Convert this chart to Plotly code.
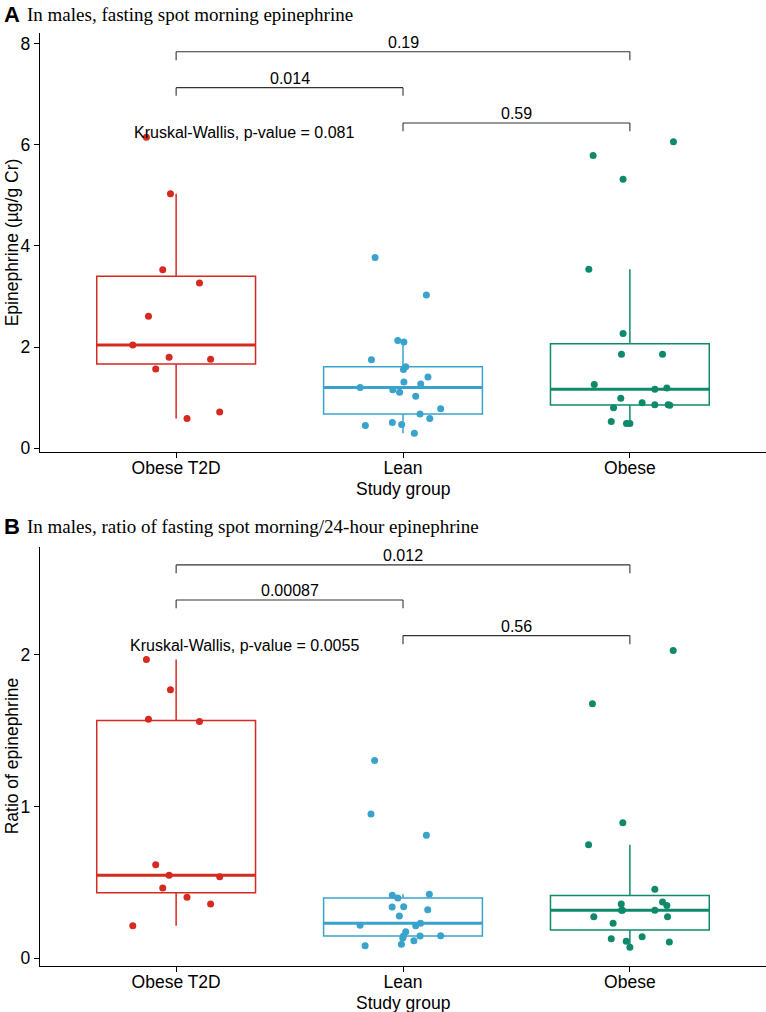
import numpy as np
import plotly.graph_objects as go

# ---------------- data ----------------
groups = ["Obese T2D", "Lean", "Obese"]

# Panel A: fasting spot morning epinephrine (µg/g Cr)
a_t2d = [6.15, 5.03, 3.53, 3.27, 2.61, 2.04, 1.80, 1.76, 1.57, 0.59, 0.72]
a_t2d_jit = [-0.131, -0.025, -0.059, 0.103, -0.122, -0.191, -0.031, 0.152, -0.090, 0.048, 0.192]
a_lean = [3.77, 3.03, 2.13, 2.10, 1.75, 1.56, 1.61, 1.41, 1.31, 1.27, 1.20, 1.16, 1.11, 1.03,
          0.78, 0.68, 0.59, 0.45, 0.51, 0.47, 0.30]
a_lean_jit = [-0.123, 0.103, -0.023, 0.004, -0.139, 0.002, 0.012, 0.110, 0.004, 0.078, -0.189,
              -0.045, -0.015, 0.056, 0.166, 0.075, 0.118, -0.166, -0.047, -0.006, 0.050]
a_obese = [3.54, 2.27, 1.86, 1.86, 1.26, 1.17, 1.19, 0.99, 0.80, 0.90, 0.86, 0.86, 0.85, 0.53,
           0.49, 0.49, 5.79, 5.32, 6.06]
a_obese_jit = [-0.181, -0.030, -0.037, 0.144, -0.157, 0.110, 0.163, -0.040, -0.072, 0.054, 0.110,
               0.169, 0.176, -0.082, -0.015, 0.0, -0.162, -0.030, 0.192]
a_pvals = ["0.19", "0.014", "0.59"]
a_kw = "Kruskal-Wallis, p-value = 0.081"

# Panel B: ratio of fasting spot morning / 24-hour epinephrine
b_t2d = [1.97, 1.77, 1.575, 1.56, 0.617, 0.547, 0.538, 0.463, 0.402, 0.358, 0.215]
b_t2d_jit = [-0.131, -0.025, -0.122, 0.103, -0.090, -0.031, 0.192, -0.059, 0.048, 0.152, -0.191]
b_lean = [1.303, 0.951, 0.811, 0.415, 0.397, 0.422, 0.338, 0.340, 0.320, 0.279, 0.218, 0.215,
          0.231, 0.175, 0.147, 0.134, 0.147, 0.149, 0.116, 0.092, 0.083]
b_lean_jit = [-0.125, -0.141, 0.103, -0.047, -0.023, 0.116, -0.048, 0.003, 0.109, -0.016, -0.189,
              0.056, 0.077, 0.012, 0.002, -0.001, 0.075, 0.166, 0.048, -0.007, -0.167]
b_obese = [2.028, 1.678, 0.894, 0.749, 0.455, 0.371, 0.347, 0.358, 0.316, 0.316, 0.316, 0.274,
           0.274, 0.231, 0.129, 0.142, 0.107, 0.112, 0.073]
b_obese_jit = [0.191, -0.165, -0.031, -0.182, 0.110, 0.144, 0.163, -0.038, -0.037, -0.033, 0.110,
               -0.159, 0.166, -0.074, -0.082, 0.054, 0.174, -0.016, 0.0]
b_pvals = ["0.012", "0.00087", "0.56"]
b_kw = "Kruskal-Wallis, p-value = 0.0055"

titles = ["In males, fasting spot morning epinephrine",
          "In males, ratio of fasting spot morning/24-hour epinephrine"]
panel_letters = ["A", "B"]
y_titles = ["Epinephrine (µg/g Cr)", "Ratio of epinephrine"]
x_title = "Study group"

# ---------------- styles / layout ----------------
colors = ["#D42A20", "#3AA3CB", "#0E8A6B"]
W, H = 766, 1012
ML, MR, MT, MB = 40, 0, 33, 46
PH = H - MT - MB
PW = W - ML - MR


def py(p):  # pixel y -> paper y
    return (H - MB - p) / PH


def px(p):  # pixel x -> paper x
    return (p - ML) / PW


dom_a = [py(451.7), 1.0]
dom_b = [0.0, py(546.7)]
yr_a = [-0.067, 8.21]
yr_b = [-0.051, 2.713]
# bracket heights (top, tick end) per comparison: (0-2), (0-1), (1-2)
br_a = [(7.84, 7.67), (7.13, 6.97), (6.43, 6.27)]
br_b = [(2.593, 2.538), (2.362, 2.307), (2.127, 2.070)]
kw_y = [6.24, 2.065]
pairs = [(0, 2), (0, 1), (1, 2)]
BOXW = 0.7
FONT = "Liberation Sans, Arial, sans-serif"

fig = go.Figure()
shapes = []
annots = []


def box_stats(v):
    v = np.asarray(v, float)
    q1, med, q3 = np.percentile(v, [25, 50, 75])
    iqr = q3 - q1
    lo = v[v >= q1 - 1.5 * iqr].min()
    hi = v[v <= q3 + 1.5 * iqr].max()
    return q1, med, q3, lo, hi


panels = [
    ("x", "y", [(a_t2d, a_t2d_jit), (a_lean, a_lean_jit), (a_obese, a_obese_jit)], a_pvals, a_kw, br_a),
    ("x2", "y2", [(b_t2d, b_t2d_jit), (b_lean, b_lean_jit), (b_obese, b_obese_jit)], b_pvals, b_kw, br_b),
]

for pi, (xa, ya, series, pvals, kw, brs) in enumerate(panels):
    for gi, (vals, jit) in enumerate(series):
        q1, med, q3, lo, hi = box_stats(vals)
        fig.add_trace(go.Box(
            x=[gi], q1=[q1], median=[med], q3=[q3], lowerfence=[lo], upperfence=[hi],
            width=BOXW, whiskerwidth=0, fillcolor="rgba(0,0,0,0)",
            line=dict(color=colors[gi], width=1.5), boxpoints=False,
            xaxis=xa, yaxis=ya, showlegend=False, hoverinfo="skip"))
        shapes.append(dict(type="line", xref=xa, yref=ya, x0=gi - BOXW / 2, x1=gi + BOXW / 2,
                           y0=med, y1=med, line=dict(color=colors[gi], width=3)))
        fig.add_trace(go.Scatter(
            x=[gi + j for j in jit], y=vals, mode="markers",
            marker=dict(color=colors[gi], size=7, line=dict(width=0)),
            xaxis=xa, yaxis=ya, showlegend=False))
    for (g0, g1), (ytop, yend), lab in zip(pairs, brs, pvals):
        lc = dict(color="#333333", width=1.1)
        shapes.append(dict(type="line", xref=xa, yref=ya, x0=g0, x1=g1, y0=ytop, y1=ytop, line=lc))
        shapes.append(dict(type="line", xref=xa, yref=ya, x0=g0, x1=g0, y0=ytop, y1=yend, line=lc))
        shapes.append(dict(type="line", xref=xa, yref=ya, x0=g1, x1=g1, y0=ytop, y1=yend, line=lc))
        annots.append(dict(xref=xa, yref=ya, x=(g0 + g1) / 2, y=ytop, text=lab, showarrow=False,
                           yanchor="bottom", xanchor="center", yshift=-1,
                           font=dict(family=FONT, size=16, color="black")))
    annots.append(dict(xref=xa, yref=ya, x=0.3, y=kw_y[pi], text=kw, showarrow=False,
                       yanchor="middle", xanchor="center",
                       font=dict(family=FONT, size=16, color="black")))

# titles and axis titles
title_cy = [15, 526]
xtitle_cy = [489, 1003]
ytitle_dom = [dom_a, dom_b]
for i in range(2):
    annots.append(dict(xref="paper", yref="paper", x=px(2), y=py(title_cy[i]),
                       text="<b>" + panel_letters[i] + "</b>", showarrow=False,
                       xanchor="left", yanchor="middle",
                       font=dict(family=FONT, size=22, color="black")))
    annots.append(dict(xref="paper", yref="paper", x=px(25), y=py(title_cy[i]),
                       text=titles[i], showarrow=False, xanchor="left", yanchor="middle",
                       font=dict(family="Liberation Serif, Times New Roman, serif", size=19,
                                 color="black")))
    annots.append(dict(xref="paper", yref="paper", x=px(402.7),
                       y=py(xtitle_cy[i]), text=x_title, showarrow=False,
                       xanchor="center", yanchor="middle",
                       font=dict(family=FONT, size=17.5, color="black")))
    d = ytitle_dom[i]
    annots.append(dict(xref="paper", yref="paper", x=px(12), y=(d[0] + d[1]) / 2,
                       text=y_titles[i], textangle=-90, showarrow=False,
                       xanchor="center", yanchor="middle",
                       font=dict(family=FONT, size=17.5, color="black")))

axis_common = dict(showline=True, linecolor="black", linewidth=1.3, ticks="outside", ticklen=5,
                   tickwidth=1.3, tickcolor="black", showgrid=False, zeroline=False,
                   tickfont=dict(family=FONT, size=17.5, color="black"))

fig.update_layout(
    width=W, height=H, margin=dict(l=ML, r=MR, t=MT, b=MB, autoexpand=False),
    paper_bgcolor="white", plot_bgcolor="white", showlegend=False,
    xaxis=dict(axis_common, range=[-0.6, 2.6], tickvals=[0, 1, 2], ticktext=groups,
               anchor="y", domain=[0, 1], ticklabelstandoff=-5),
    yaxis=dict(axis_common, range=yr_a, tickvals=[0, 2, 4, 6, 8], domain=dom_a, anchor="x"),
    xaxis2=dict(axis_common, range=[-0.6, 2.6], tickvals=[0, 1, 2], ticktext=groups,
                anchor="y2", domain=[0, 1], ticklabelstandoff=-5),
    yaxis2=dict(axis_common, range=yr_b, tickvals=[0, 1, 2], domain=dom_b, anchor="x2"),
    shapes=shapes, annotations=annots,
)

fig.write_html("out.html", config={"displayModeBar": False},
               post_script="document.body.style.margin='0';document.body.style.overflow='hidden';")
